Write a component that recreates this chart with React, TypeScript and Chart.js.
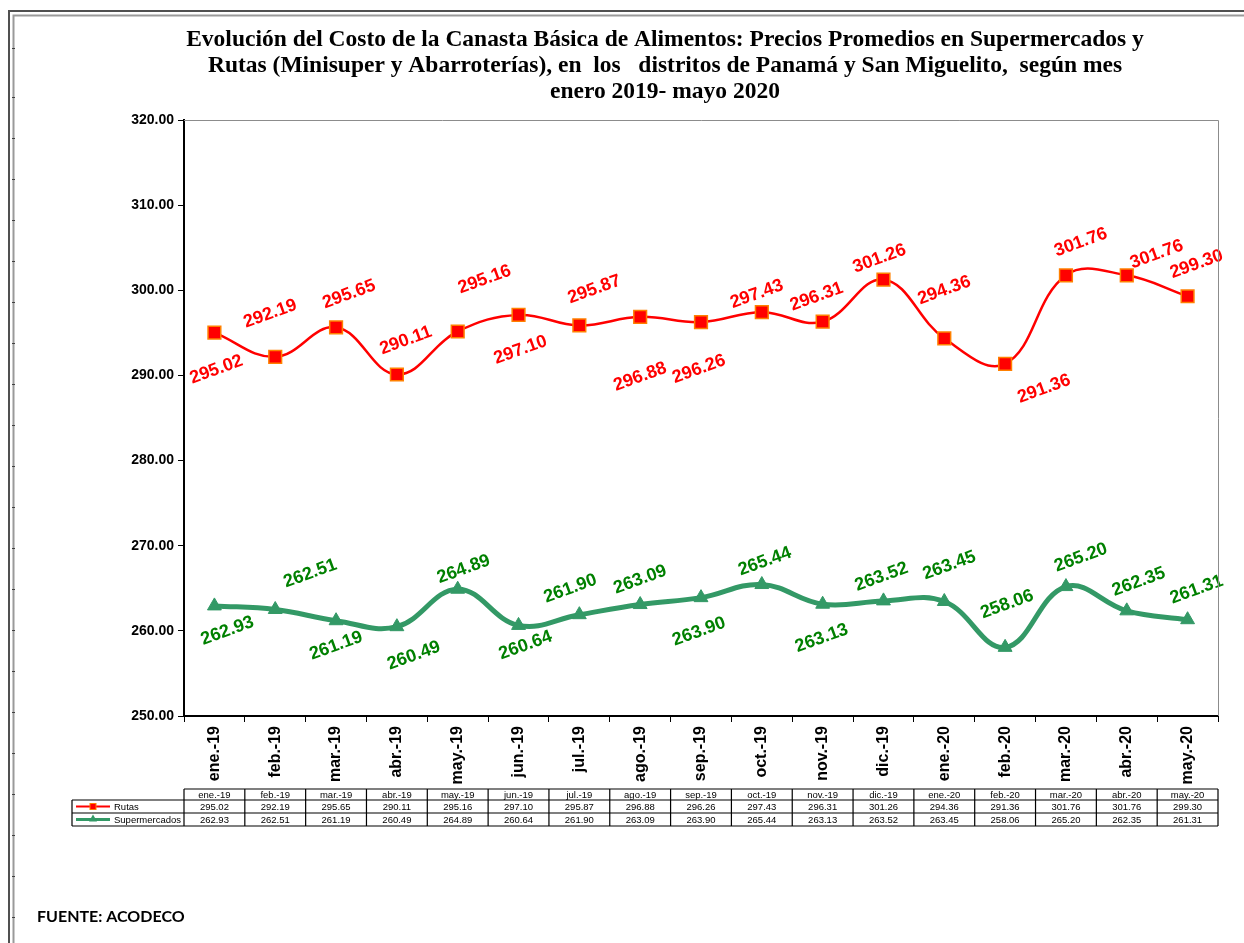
import React, { useEffect, useRef } from "react";
import { Chart, registerables } from "chart.js";

Chart.register(...registerables);

const titleLines = [
  "Evolución del Costo de la Canasta Básica de Alimentos: Precios Promedios en Supermercados y",
  "Rutas (Minisuper y Abarroterías), en  los   distritos de Panamá y San Miguelito,  según mes",
  "enero 2019- mayo 2020",
];

const categories = [
  "ene.-19", "feb.-19", "mar.-19", "abr.-19", "may.-19", "jun.-19", "jul.-19", "ago.-19",
  "sep.-19", "oct.-19", "nov.-19", "dic.-19", "ene.-20", "feb.-20", "mar.-20", "abr.-20", "may.-20",
];

const rutas = [
  295.02, 292.19, 295.65, 290.11, 295.16, 297.1, 295.87, 296.88, 296.26, 297.43, 296.31, 301.26,
  294.36, 291.36, 301.76, 301.76, 299.3,
];

const supermercados = [
  262.93, 262.51, 261.19, 260.49, 264.89, 260.64, 261.9, 263.09, 263.9, 265.44, 263.13, 263.52,
  263.45, 258.06, 265.2, 262.35, 261.31,
];

const yMin = 250;
const yMax = 320;
const yStep = 10;

const sourceText = "FUENTE: ACODECO";

// label placement offsets (pixels) for the rotated value labels
const rutasLabelOffsets = [
  [2, 37], [-5, -43], [13, -33], [9, -34], [27, -52], [2, 35], [15, -36], [0, 60], [-2, 47],
  [-5, -18], [-6, -25], [-4, -21], [0, -48], [39, 25], [15, -33], [30, -21], [9, -32],
];
const superLabelOffsets = [
  [13, 25], [35, -36], [0, 25], [17, 29], [6, -20], [7, 20], [-9, -26], [0, -25], [-2, 34],
  [3, -23], [-1, 34], [-2, -24], [5, -36], [2, -43], [15, -29], [12, -29], [9, -30],
];

const RED = "#FF0000";
const GREEN_LINE = "#339966";
const GREEN_TEXT = "#008000";
const SANS = "'Liberation Sans', Arial, sans-serif";
const SERIF = "'Liberation Serif', 'Times New Roman', serif";

const fmt = (v: number) => v.toFixed(2);

const bgPlugin = {
  id: "bg",
  beforeDraw(chart: any) {
    const { ctx, width, height } = chart;
    ctx.save();
    ctx.fillStyle = "#ffffff";
    ctx.fillRect(0, 0, width, height);
    ctx.restore();
  },
};

const labelsPlugin = {
  id: "valueLabels",
  afterDatasetsDraw(chart: any) {
    const { ctx } = chart;
    const sets = [
      { idx: 0, values: rutas, offsets: rutasLabelOffsets, color: RED },
      { idx: 1, values: supermercados, offsets: superLabelOffsets, color: GREEN_TEXT },
    ];
    ctx.save();
    ctx.font = `bold 18px ${SANS}`;
    ctx.textAlign = "center";
    ctx.textBaseline = "middle";
    for (const s of sets) {
      const meta = chart.getDatasetMeta(s.idx);
      meta.data.forEach((pt: any, i: number) => {
        const [dx, dy] = s.offsets[i];
        ctx.save();
        ctx.translate(pt.x + dx, pt.y + dy);
        ctx.rotate((-20 * Math.PI) / 180);
        ctx.fillStyle = s.color;
        ctx.fillText(fmt(s.values[i]), 0, 0);
        ctx.restore();
      });
    }
    ctx.restore();
  },
};

const decorPlugin = {
  id: "decor",
  afterDraw(chart: any) {
    const { ctx, chartArea, width, height } = chart;
    const x = chart.scales.x;
    ctx.save();

    // outer frame
    ctx.strokeStyle = "#505050";
    ctx.lineWidth = 2;
    ctx.beginPath();
    ctx.moveTo(9, height);
    ctx.lineTo(9, 11);
    ctx.lineTo(width, 11);
    ctx.stroke();
    ctx.strokeStyle = "#9a9a9a";
    ctx.lineWidth = 2;
    ctx.beginPath();
    ctx.moveTo(13.5, height);
    ctx.lineTo(13.5, 15.5);
    ctx.lineTo(width, 15.5);
    ctx.stroke();
    ctx.strokeStyle = "#404040";
    ctx.lineWidth = 1;
    const marks = [48, 97];
    for (let y = 138; y < height; y += 41) marks.push(y);
    ctx.beginPath();
    for (const y of marks) {
      ctx.moveTo(12, y + 0.5);
      ctx.lineTo(15, y + 0.5);
    }
    ctx.stroke();

    // plot area top/right border
    ctx.strokeStyle = "#8c8c8c";
    ctx.lineWidth = 1;
    ctx.beginPath();
    ctx.moveTo(chartArea.left, chartArea.top + 0.5);
    ctx.lineTo(chartArea.right + 0.5, chartArea.top + 0.5);
    ctx.lineTo(chartArea.right + 0.5, chartArea.bottom);
    ctx.stroke();

    // title
    ctx.fillStyle = "#000";
    ctx.font = `bold 23.5px ${SERIF}`;
    ctx.textAlign = "center";
    ctx.textBaseline = "middle";
    titleLines.forEach((t, i) => ctx.fillText(t, 665, 40 + i * 26));

    // data table
    const n = categories.length;
    const colW = (chartArea.right - chartArea.left) / n;
    const left = chartArea.left;
    const right = chartArea.right;
    const legLeft = 72;
    const rows = [789, 800, 813, 826];
    ctx.strokeStyle = "#000";
    ctx.lineWidth = 1.2;
    ctx.beginPath();
    ctx.moveTo(left, rows[0]);
    ctx.lineTo(right, rows[0]);
    for (let r = 1; r < rows.length; r++) {
      ctx.moveTo(legLeft, rows[r]);
      ctx.lineTo(right, rows[r]);
    }
    ctx.moveTo(legLeft, rows[1]);
    ctx.lineTo(legLeft, rows[3]);
    for (let i = 0; i <= n; i++) {
      const cx = left + i * colW;
      ctx.moveTo(cx, rows[0]);
      ctx.lineTo(cx, rows[3]);
    }
    ctx.stroke();

    ctx.font = `9.5px ${SANS}`;
    ctx.fillStyle = "#000";
    ctx.textAlign = "center";
    ctx.textBaseline = "middle";
    for (let i = 0; i < n; i++) {
      const cx = x.getPixelForValue(i);
      ctx.fillText(categories[i], cx, (rows[0] + rows[1]) / 2 + 0.5);
      ctx.fillText(fmt(rutas[i]), cx, (rows[1] + rows[2]) / 2 + 0.5);
      ctx.fillText(fmt(supermercados[i]), cx, (rows[2] + rows[3]) / 2 + 0.5);
    }
    // legend keys
    const y1 = (rows[1] + rows[2]) / 2;
    const y2 = (rows[2] + rows[3]) / 2;
    ctx.strokeStyle = RED;
    ctx.lineWidth = 2;
    ctx.beginPath();
    ctx.moveTo(76, y1);
    ctx.lineTo(110, y1);
    ctx.stroke();
    ctx.fillStyle = RED;
    ctx.fillRect(90, y1 - 3, 6, 6);
    ctx.strokeStyle = "#FF8000";
    ctx.lineWidth = 1;
    ctx.strokeRect(90, y1 - 3, 6, 6);
    ctx.strokeStyle = GREEN_LINE;
    ctx.lineWidth = 3;
    ctx.beginPath();
    ctx.moveTo(76, y2);
    ctx.lineTo(110, y2);
    ctx.stroke();
    ctx.fillStyle = GREEN_LINE;
    ctx.beginPath();
    ctx.moveTo(93, y2 - 5);
    ctx.lineTo(97, y2 + 2);
    ctx.lineTo(89, y2 + 2);
    ctx.closePath();
    ctx.fill();
    ctx.fillStyle = "#000";
    ctx.textAlign = "left";
    ctx.fillText("Rutas", 114, y1 + 0.5);
    ctx.fillText("Supermercados", 114, y2 + 0.5);

    // source
    ctx.font = `bold 16px Lato, 'Open Sans', sans-serif`;
    ctx.textAlign = "left";
    ctx.fillText(sourceText, 37, 917);

    ctx.restore();
  },
};

export default function App() {
  const canvasRef = useRef<HTMLCanvasElement | null>(null);

  useEffect(() => {
    if (!canvasRef.current) return;
    const chart = new Chart(canvasRef.current, {
      type: "line",
      data: {
        labels: categories,
        datasets: [
          {
            label: "Rutas",
            data: rutas,
            borderColor: RED,
            backgroundColor: RED,
            borderWidth: 2.5,
            pointStyle: "rect",
            pointRadius: 9,
            pointBackgroundColor: RED,
            pointBorderColor: "#FF8000",
            pointBorderWidth: 1.5,
            tension: 0.4,
            fill: false,
          },
          {
            label: "Supermercados",
            data: supermercados,
            borderColor: GREEN_LINE,
            backgroundColor: GREEN_LINE,
            borderWidth: 5,
            pointStyle: "triangle",
            pointRadius: 8,
            pointBackgroundColor: GREEN_LINE,
            pointBorderColor: GREEN_LINE,
            pointBorderWidth: 1,
            tension: 0.4,
            fill: false,
          },
        ],
      },
      options: {
        responsive: false,
        animation: false,
        devicePixelRatio: 1,
        layout: { padding: { left: 114, top: 120, right: 26, bottom: 0 } },
        plugins: {
          legend: { display: false },
          tooltip: { enabled: false },
          title: { display: false },
        },
        scales: {
          x: {
            type: "category",
            offset: true,
            afterFit: (scale: any) => {
              scale.height = 227;
            },
            grid: {
              offset: true,
              drawOnChartArea: false,
              drawTicks: true,
              tickLength: 6,
              color: "#000",
            },
            border: { display: true, color: "#000", width: 2 },
            ticks: {
              autoSkip: false,
              minRotation: 90,
              maxRotation: 90,
              padding: 4,
              color: "#000",
              font: { family: SANS, size: 16, weight: "bold" },
            },
          },
          y: {
            min: yMin,
            max: yMax,
            afterFit: (scale: any) => {
              scale.width = 70;
            },
            grid: {
              drawOnChartArea: false,
              drawTicks: true,
              tickLength: 6,
              color: "#000",
            },
            border: { display: true, color: "#000", width: 2 },
            ticks: {
              stepSize: yStep,
              padding: 4,
              color: "#000",
              font: { family: SANS, size: 14, weight: "bold" },
              callback: (v: any) => Number(v).toFixed(2),
            },
          },
        },
      },
      plugins: [bgPlugin, labelsPlugin, decorPlugin],
    } as any);
    return () => chart.destroy();
  }, []);

  return (
    <div style={{ position: "fixed", left: 0, top: 0, width: 1244, height: 943, background: "#fff" }}>
      <canvas ref={canvasRef} width={1244} height={943} style={{ display: "block" }} />
    </div>
  );
}
